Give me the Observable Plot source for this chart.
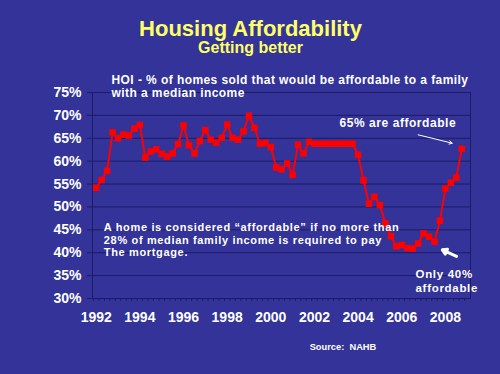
<!DOCTYPE html>
<html><head><meta charset="utf-8">
<script src="https://cdn.jsdelivr.net/npm/d3@7"></script>
<script src="https://cdn.jsdelivr.net/npm/@observablehq/plot@0.6"></script>
<style>
html,body{margin:0;padding:0;background:#333399;}
</style></head><body><div id="chart"></div>
<script>
// Quarterly HOI values, 1992 Q1 .. 2008 Q4 (percent)
const hoi = [
  54.2, 55.9, 57.9, 66.3,   65.0, 65.8, 65.6, 67.1,
  67.9, 60.8, 62.1, 62.6,   61.6, 61.0, 61.7, 63.7,
  67.8, 63.5, 61.7, 64.4,   66.8, 64.7, 64.0, 65.1,
  68.0, 65.1, 64.7, 66.5,   69.9, 67.3, 63.8, 64.0,
  63.1, 58.6, 58.2, 59.5,   57.0, 63.6, 61.7, 64.2,
  63.8, 63.8, 63.8, 63.8,   63.8, 63.8, 63.8, 63.8,
  61.4, 55.8, 50.7, 52.2,   50.4, 46.4, 43.6, 41.4,
  41.7, 41.0, 40.9, 42.0,   44.2, 43.5, 42.4, 47.0,
  54.0, 55.3, 56.4, 62.7
];
const firstYear = 1992;
const yearTicks = [1992, 1994, 1996, 1998, 2000, 2002, 2004, 2006, 2008];
const pctTicks = [30, 35, 40, 45, 50, 55, 60, 65, 70, 75];
const titleText = "Housing Affordability";
const subtitleText = "Getting better";
const hoiLines = ["HOI - % of homes sold that would be affordable to a family", "with a median income"];
const noteLines = ["A home is considered \u201caffordable\u201d if no more than", "28% of median family income is required to pay", "The mortgage."];
const highLabel = "65% are affordable";
const lowLines = ["Only 40%", "affordable"];
const sourceText = "Source:  NAHB";

const data = hoi.map((v, i) => ({t: firstYear + i / 4, v}));
const minorTicks = d3.range(firstYear - 0.125, 2009.1, 0.25);

const grid = "#1c1c66";
const font = "'Liberation Sans', Arial, sans-serif";
const txt = (arr, opts) => Plot.text(arr, {text: d => d, fill: "white", fontWeight: "bold", textAnchor: "start", ...opts});

const chart = Plot.plot({
  width: 500, height: 374,
  marginLeft: 92, marginRight: 30, marginTop: 92, marginBottom: 76,
  style: {background: "#333399", fontFamily: font, fontWeight: "bold", color: "white"},
  x: {domain: [1991.83, 2009.15]},
  y: {domain: [30, 75]},
  marks: [
    Plot.ruleY(pctTicks, {stroke: grid, strokeWidth: 1}),
    Plot.frame({stroke: grid, strokeWidth: 1}),
    Plot.axisY({ticks: pctTicks, tickFormat: d => d + "%", tickSize: 5, tickPadding: 6, fontSize: 14, stroke: grid, fill: "white", label: null}),
    Plot.axisX({ticks: minorTicks, tickSize: 3, tickFormat: () => "", stroke: grid, label: null}),
    Plot.axisX({ticks: yearTicks, tickSize: 0, tickPadding: 14, tickFormat: d => String(d), fontSize: 14, fill: "white", label: null}),
    Plot.line(data, {x: "t", y: "v", stroke: "#ff0000", strokeWidth: 2}),
    Plot.dot(data, {x: "t", y: "v", symbol: "square", r: 3.7, fill: "#ff0000", stroke: null}),
    // titles
    txt([titleText], {x: 1999.07, y: 88.98, textAnchor: "middle", fontSize: 22, fill: "#ffff66"}),
    txt([subtitleText], {x: 1999.07, y: 84.7, textAnchor: "middle", fontSize: 16, fill: "#ffff66"}),
    txt([hoiLines[0]], {x: 1992.70, y: 77.73, fontSize: 12}),
    txt([hoiLines[1]], {x: 1992.70, y: 74.8, fontSize: 12}),
    txt([noteLines[0]], {x: 1992.35, y: 45.45, fontSize: 11}),
    txt([noteLines[1]], {x: 1992.35, y: 42.71, fontSize: 11}),
    txt([noteLines[2]], {x: 1992.35, y: 40.0, fontSize: 11}),
    txt([highLabel], {x: 2003.15, y: 68.4, fontSize: 12}),
    Plot.arrow([0], {x1: 2006.75, y1: 65.76, x2: 2008.31, y2: 63.93, stroke: "white", strokeWidth: 1, headLength: 5}),
    txt([lowLines[0]], {x: 2006.63, y: 35.2, fontSize: 11.5}),
    txt([lowLines[1]], {x: 2006.63, y: 32.3, fontSize: 11.5}),
    Plot.arrow([0], {x1: 2008.51, y1: 39.18, x2: 2007.86, y2: 40.64, stroke: "white", strokeWidth: 3, headLength: 8}),
    txt([sourceText], {x: 2001.78, y: 19.5, fontSize: 9.3})
  ]
});
// widen letter spacing to match the reference's rendering
const spacing = new Map([
  [hoiLines[0], 0.43], [hoiLines[1], 0.43],
  [noteLines[0], 0.65], [noteLines[1], 0.65], [noteLines[2], 0.65],
  [highLabel, 0.55], [lowLines[0], 0.7], [lowLines[1], 0.7]
]);
chart.querySelectorAll("text").forEach(t => {
  const s = spacing.get(t.textContent);
  if (s != null) t.setAttribute("letter-spacing", s);
});
document.getElementById("chart").appendChild(chart);
</script></body></html>
